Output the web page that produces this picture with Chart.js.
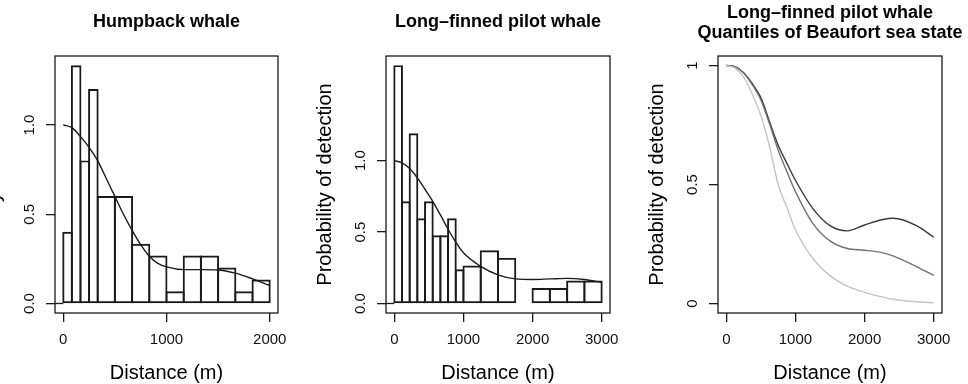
<!DOCTYPE html>
<html>
<head>
<meta charset="utf-8">
<title>Detection functions</title>
<script src="https://cdn.jsdelivr.net/npm/chart.js@4.4.1/dist/chart.umd.min.js"></script>
<style>
  html, body { margin: 0; padding: 0; background: #fff; overflow: hidden; width: 968px; height: 384px; }
  canvas { position: absolute; top: 0; }
</style>
</head>
<body>
<canvas id="humpbackChart" width="383" height="384" style="left:-25px"></canvas>
<canvas id="pilotChart" width="384" height="384" style="left:306px"></canvas>
<canvas id="beaufortChart" width="384" height="384" style="left:638px"></canvas>
<script>
// Humpback whale - histogram (two bin widths) + fitted detection function
const humpbackNarrowEdges = [0, 83.33, 166.67, 250, 333.33];
const humpbackNarrowHeights = [0.4, 1.333, 0.8, 1.2];
const humpbackWideEdges = [333.33, 500, 666.67, 833.33, 1000, 1166.67, 1333.33, 1500, 1666.67, 1833.33, 2000];
const humpbackWideHeights = [0.6, 0.6, 0.333, 0.267, 0.067, 0.267, 0.267, 0.2, 0.067, 0.133];
const humpbackCurveX = [0, 83, 167, 250, 333, 417, 500, 583, 667, 750, 833, 917, 1000, 1167, 1333, 1500, 1667, 1833, 2000];
const humpbackCurveY = [1.0, 0.985, 0.935, 0.875, 0.8, 0.7, 0.6, 0.5, 0.41, 0.33, 0.265, 0.225, 0.205, 0.19, 0.19, 0.188, 0.17, 0.138, 0.1];

// Long-finned pilot whale
const pilotNarrowEdges = [0, 111.1, 222.2, 333.3, 444.4, 555.6, 666.7, 777.8, 888.9, 1000];
const pilotNarrowHeights = [1.667, 0.714, 1.19, 0.595, 0.714, 0.476, 0.476, 0.595, 0.238];
const pilotWideEdges = [1000, 1250, 1500, 1750, 2000, 2250, 2500, 2750, 3000];
const pilotWideHeights = [0.264, 0.37, 0.317, 0, 0.106, 0.106, 0.159, 0.159];
const pilotCurveX = [0, 111, 222, 333, 444, 556, 667, 778, 889, 1000, 1250, 1500, 1750, 2000, 2250, 2500, 2750, 3000];
const pilotCurveY = [1.0, 0.985, 0.945, 0.88, 0.8, 0.715, 0.62, 0.52, 0.43, 0.355, 0.26, 0.2, 0.172, 0.168, 0.172, 0.176, 0.168, 0.148];

// Long-finned pilot whale, quantiles of Beaufort sea state
const beaufortX = [0, 125, 250, 375, 500, 625, 750, 875, 1000, 1250, 1500, 1750, 2000, 2250, 2420, 2750, 3000];
const beaufortLow = [1.0, 0.995, 0.97, 0.925, 0.865, 0.765, 0.665, 0.59, 0.518, 0.4, 0.327, 0.305, 0.33, 0.352, 0.358, 0.327, 0.279];
const beaufortMid = [1.0, 0.995, 0.97, 0.92, 0.855, 0.755, 0.645, 0.555, 0.47, 0.337, 0.263, 0.231, 0.224, 0.214, 0.199, 0.155, 0.118];
const beaufortHigh = [1.0, 0.99, 0.952, 0.88, 0.79, 0.66, 0.5, 0.405, 0.31, 0.19, 0.117, 0.073, 0.047, 0.028, 0.018, 0.007, 0.003];

const xTicks2000 = [0, 1000, 2000];
const xTicks3000 = [0, 1000, 2000, 3000];
const yTicks = [0, 0.5, 1];
const yTickLabelsHist = ['0.0', '0.5', '1.0'];
const yTickLabelsCurve = ['0', '0.5', '1'];

const INK = '#1a1a1a';
const LINE_W = 1.3;
const AXIS_W = 80;   // px from canvas edge to plot box, both sides

Chart.defaults.font.family = "'Liberation Sans', Arial, Helvetica, sans-serif";
Chart.defaults.color = '#111';

// R-style box round the plot region
const rFrame = {
    id: 'rFrame',
    afterDraw(chart, args, opts) {
        const { ctx, chartArea: a, scales } = chart;
        ctx.save();
        ctx.strokeStyle = INK;
        ctx.lineWidth = LINE_W;
        ctx.strokeRect(a.left, a.top, a.right - a.left, a.bottom - a.top);
        if (opts.baseStub) {
            const y0 = scales.y.getPixelForValue(0);
            ctx.beginPath();
            ctx.moveTo(a.left, y0);
            ctx.lineTo(scales.x.getPixelForValue(0), y0);
            ctx.stroke();
        }
        ctx.restore();
    }
};

function binsToPoints(edges, heights) {
    return heights.map((h, i) => ({ x: (edges[i] + edges[i + 1]) / 2, y: h }));
}

function binThickness(binWidth) {
    return ctx => {
        const s = ctx.chart.scales.x;
        if (!s) return 10;
        return Math.abs(s.getPixelForValue(binWidth) - s.getPixelForValue(0)) + LINE_W;
    };
}

function histDataset(edges, heights) {
    return {
        type: 'bar',
        data: binsToPoints(edges, heights),
        stack: 'hist',
        order: 2,
        backgroundColor: 'rgba(0,0,0,0)',
        borderColor: INK,
        borderWidth: LINE_W,
        borderSkipped: false,
        barThickness: binThickness(edges[1] - edges[0])
    };
}

function curveDataset(xs, ys, color) {
    return {
        type: 'line',
        data: xs.map((x, i) => ({ x: x, y: ys[i] })),
        order: 1,
        borderColor: color,
        borderWidth: 1.4,
        pointRadius: 0,
        fill: false,
        cubicInterpolationMode: 'monotone'
    };
}

function panelOptions(cfg) {
    return {
        responsive: false,
        animation: false,
        events: [],
        layout: { padding: 0 },
        plugins: {
            legend: { display: false },
            tooltip: { enabled: false },
            title: {
                display: true,
                text: cfg.title,
                color: '#000',
                font: { size: 18, weight: 'bold', lineHeight: cfg.titleLineHeight },
                padding: cfg.titlePadding
            },
            rFrame: { baseStub: cfg.baseStub }
        },
        scales: {
            x: {
                type: 'linear',
                min: cfg.xMin,
                max: cfg.xMax,
                offset: false,
                afterBuildTicks: s => { s.ticks = cfg.xTicks.map(v => ({ value: v })); },
                afterFit: s => { s.height = 71; },
                ticks: { font: { size: 15 }, padding: 9, maxRotation: 0, callback: v => String(v) },
                grid: { drawOnChartArea: false, offset: false, tickLength: 9, color: INK, lineWidth: LINE_W },
                border: { display: false },
                title: { display: true, text: 'Distance (m)', color: '#000', font: { size: 20, lineHeight: 1 }, padding: { top: 0, bottom: 1 } }
            },
            y: {
                min: cfg.yMin,
                max: cfg.yMax,
                stacked: false,
                afterBuildTicks: s => { s.ticks = yTicks.map(v => ({ value: v })); },
                afterFit: s => { s.width = AXIS_W; },
                ticks: {
                    font: { size: 15 },
                    minRotation: 90,
                    maxRotation: 90,
                    crossAlign: 'center',
                    padding: 6,
                    callback: (v, i) => cfg.yLabels[i]
                },
                grid: { drawOnChartArea: false, tickLength: 9, color: INK, lineWidth: LINE_W },
                border: { display: false },
                title: { display: true, text: 'Probability of detection', color: '#000', font: { size: 20, lineHeight: 1 }, padding: { top: 9, bottom: 0 } }
            },
            // empty right margin so the title centres on the plot box
            yRight: {
                position: 'right',
                min: 0,
                max: 1,
                afterFit: s => { s.width = AXIS_W; },
                ticks: { display: false },
                grid: { display: false },
                border: { display: false }
            }
        }
    };
}

new Chart(document.getElementById('humpbackChart'), {
    type: 'bar',
    data: {
        datasets: [
            curveDataset(humpbackCurveX, humpbackCurveY, INK),
            histDataset(humpbackNarrowEdges, humpbackNarrowHeights),
            histDataset(humpbackWideEdges, humpbackWideHeights)
        ]
    },
    options: panelOptions({
        title: 'Humpback whale', titleLineHeight: 1.2, titlePadding: { top: 11, bottom: 23.4 },
        xMin: -80, xMax: 2080, xTicks: xTicks2000,
        yMin: -0.0533, yMax: 1.3867, yLabels: yTickLabelsHist, baseStub: true
    }),
    plugins: [rFrame]
});

new Chart(document.getElementById('pilotChart'), {
    type: 'bar',
    data: {
        datasets: [
            curveDataset(pilotCurveX, pilotCurveY, INK),
            histDataset(pilotNarrowEdges, pilotNarrowHeights),
            histDataset(pilotWideEdges, pilotWideHeights)
        ]
    },
    options: panelOptions({
        title: 'Long\u2013finned pilot whale', titleLineHeight: 1.2, titlePadding: { top: 11, bottom: 23.4 },
        xMin: -120, xMax: 3120, xTicks: xTicks3000,
        yMin: -0.0667, yMax: 1.7333, yLabels: yTickLabelsHist, baseStub: true
    }),
    plugins: [rFrame]
});

new Chart(document.getElementById('beaufortChart'), {
    type: 'line',
    data: {
        datasets: [
            curveDataset(beaufortX, beaufortHigh, '#c4c4c4'),
            curveDataset(beaufortX, beaufortMid, '#717171'),
            curveDataset(beaufortX, beaufortLow, '#3a3a3a')
        ]
    },
    options: panelOptions({
        title: ['Long\u2013finned pilot whale', 'Quantiles of Beaufort sea state'],
        titleLineHeight: 1.145, titlePadding: { top: 2.4, bottom: 12.4 },
        xMin: -120, xMax: 3120, xTicks: xTicks3000,
        yMin: -0.04, yMax: 1.04, yLabels: yTickLabelsCurve, baseStub: false
    }),
    plugins: [rFrame]
});
</script>
</body>
</html>
